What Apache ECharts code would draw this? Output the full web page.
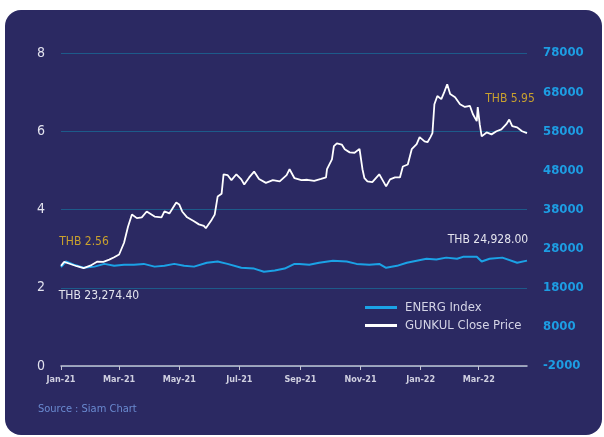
<!DOCTYPE html>
<html>
<head>
<meta charset="utf-8">
<script src="https://cdn.jsdelivr.net/npm/echarts@6/dist/echarts.min.js"></script>
<style>
html, body { margin: 0; padding: 0; background: #ffffff; }
#panel { position: absolute; left: 5px; top: 10px; width: 597px; height: 425px; background: #2b2962; border-radius: 16px; }
#chart { position: absolute; left: 0; top: 0; width: 604px; height: 437px; }
</style>
</head>
<body>
<div id="panel"></div>
<div id="chart"></div>
<script>
// GUNKUL close price (THB), left axis
var gunkulDates = ['2021-01-01','2021-01-04','2021-01-09','2021-01-17','2021-01-24','2021-02-01','2021-02-07','2021-02-13','2021-02-19','2021-02-24',
  '2021-03-01','2021-03-06','2021-03-10','2021-03-14','2021-03-19','2021-03-24','2021-03-29','2021-04-06','2021-04-13','2021-04-16',
  '2021-04-21','2021-04-28','2021-05-01','2021-05-04','2021-05-09','2021-05-16','2021-05-21','2021-05-26','2021-05-28','2021-06-03',
  '2021-06-06','2021-06-09','2021-06-13','2021-06-15','2021-06-19','2021-06-23','2021-06-28','2021-07-03','2021-07-06','2021-07-11',
  '2021-07-16','2021-07-21','2021-07-28','2021-08-04','2021-08-11','2021-08-18','2021-08-21','2021-08-26','2021-09-02','2021-09-08',
  '2021-09-15','2021-09-22','2021-09-27','2021-09-28','2021-10-03','2021-10-05','2021-10-08','2021-10-13','2021-10-16','2021-10-21',
  '2021-10-26','2021-10-31','2021-11-03','2021-11-05','2021-11-08','2021-11-13','2021-11-20','2021-11-23','2021-11-27','2021-12-01',
  '2021-12-06','2021-12-11','2021-12-14','2021-12-19','2021-12-23','2021-12-28','2021-12-31','2022-01-05','2022-01-08','2022-01-11',
  '2022-01-13','2022-01-15','2022-01-18','2022-01-22','2022-01-25','2022-01-28','2022-01-31','2022-02-05','2022-02-10','2022-02-15',
  '2022-02-20','2022-02-23','2022-02-27','2022-02-28','2022-03-02','2022-03-04','2022-03-09','2022-03-14','2022-03-19','2022-03-24',
  '2022-03-29','2022-04-01','2022-04-04','2022-04-09','2022-04-14','2022-04-19'];
var gunkulPrices = [2.56,2.66,2.62,2.55,2.50,2.58,2.67,2.66,2.72,2.78,
  2.85,3.15,3.56,3.87,3.78,3.80,3.95,3.82,3.80,3.95,
  3.90,4.18,4.13,3.95,3.80,3.70,3.62,3.58,3.52,3.74,
  3.87,4.33,4.40,4.90,4.88,4.75,4.90,4.77,4.64,4.82,
  4.97,4.78,4.68,4.75,4.72,4.88,5.03,4.80,4.75,4.76,
  4.73,4.78,4.82,5.03,5.28,5.62,5.69,5.66,5.54,5.46,
  5.45,5.55,5.03,4.80,4.72,4.70,4.90,4.77,4.59,4.77,
  4.82,4.82,5.10,5.15,5.54,5.67,5.85,5.74,5.72,5.85,
  5.95,6.69,6.90,6.82,7.00,7.20,6.95,6.87,6.69,6.62,
  6.65,6.44,6.26,6.62,6.18,5.87,5.97,5.92,6.00,6.05,
  6.18,6.30,6.13,6.10,6.00,5.95];

// ENERG index, right axis
var energDates = ['2021-01-01','2021-01-06','2021-01-14','2021-01-24','2021-02-04','2021-02-14','2021-02-24','2021-03-06','2021-03-16','2021-03-26',
  '2021-04-06','2021-04-16','2021-04-26','2021-05-06','2021-05-16','2021-05-29','2021-06-09','2021-06-19','2021-07-03','2021-07-16',
  '2021-07-26','2021-08-06','2021-08-16','2021-08-26','2021-08-31','2021-09-10','2021-09-20','2021-10-04','2021-10-18','2021-10-28',
  '2021-11-10','2021-11-20','2021-11-27','2021-12-08','2021-12-18','2021-12-28','2022-01-07','2022-01-17','2022-01-27','2022-02-07',
  '2022-02-13','2022-02-27','2022-03-04','2022-03-12','2022-03-25','2022-04-09','2022-04-19'];
var energValues = [23274.40,24700,23900,23100,23400,24100,23600,23900,23900,24100,
  23400,23600,24100,23600,23400,24400,24700,24100,23100,22900,
  22100,22400,22900,24100,24100,23900,24400,24900,24700,24100,
  23900,24100,23100,23600,24400,24900,25400,25200,25700,25400,
  25900,25900,24700,25400,25700,24400,24928.00];

var tickDates = ['2021-01-01','2021-03-01','2021-05-01','2021-07-01','2021-09-01','2021-11-01','2022-01-01','2022-03-01'];
var monthNames = ['Jan','Feb','Mar','Apr','May','Jun','Jul','Aug','Sep','Oct','Nov','Dec'];

var FONT = "'DejaVu Sans Condensed', 'Liberation Sans Narrow', sans-serif";

function ts(d) { return echarts.time.parse(d).getTime(); }
function pairs(dates, vals) {
  return dates.map(function (d, i) { return [ts(d), vals[i]]; });
}

var gunkulData = pairs(gunkulDates, gunkulPrices);
var energData = pairs(energDates, energValues);
var gFirst = gunkulData[0], gLast = gunkulData[gunkulData.length - 1];
var eFirst = energData[0], eLast = energData[energData.length - 1];
var tickValues = tickDates.map(ts);

var option = {
  animation: false,
  title: {
    text: 'Source : Siam Chart',
    left: 33, top: 399,
    textStyle: { color: '#6a8ad0', fontSize: 11, fontWeight: 'normal', fontFamily: FONT }
  },
  legend: {
    orient: 'vertical',
    left: 360, top: 296,
    itemWidth: 32, itemHeight: 3, itemGap: 5,
    icon: 'rect',
    textStyle: { color: '#d4d4e6', fontSize: 13, fontFamily: FONT, padding: [0, 0, 0, 3] },
    data: ['ENERG Index', 'GUNKUL Close Price']
  },
  grid: { left: 61, right: 77, top: 53, bottom: 71 },
  xAxis: {
    type: 'value',
    min: ts('2021-01-01'),
    max: ts('2022-04-19'),
    axisLine: { lineStyle: { color: '#c4c4d4', width: 1.5 } },
    axisTick: { show: true, length: 4, customValues: tickValues, lineStyle: { color: '#c4c4d4' } },
    axisLabel: {
      customValues: tickValues,
      color: '#d0d0e0', fontSize: 9, fontWeight: 'bold', fontFamily: FONT, margin: 9,
      formatter: function (v) {
        var d = new Date(v);
        return monthNames[d.getMonth()] + '-' + String(d.getFullYear()).slice(2);
      }
    },
    splitLine: { show: false }
  },
  yAxis: [{
    type: 'value', min: 0, max: 8, interval: 2,
    axisLine: { show: false }, axisTick: { show: false },
    axisLabel: { color: '#e2e2ee', fontSize: 14, fontFamily: FONT, margin: 16 },
    splitLine: { lineStyle: { color: '#1d5a8a', width: 1 } }
  }, {
    type: 'value', min: -2000, max: 78000, interval: 10000,
    axisLine: { show: false }, axisTick: { show: false },
    axisLabel: {
      color: '#1d9de3', fontSize: 13, fontWeight: 'bold', fontFamily: FONT, margin: 16,
      formatter: function (v) { return String(v); }
    },
    splitLine: { show: false }
  }],
  series: [{
    name: 'ENERG Index',
    type: 'line',
    yAxisIndex: 1,
    data: energData,
    showSymbol: false,
    color: '#1ba2e6',
    lineStyle: { color: '#1ba2e6', width: 2 },
    markPoint: {
      symbolSize: 0,
      label: {
        show: true, position: 'inside', color: '#e4e4ee', fontSize: 12, fontFamily: FONT,
        formatter: function (p) {
          return 'THB ' + p.value.toLocaleString('en-US', { minimumFractionDigits: 2, maximumFractionDigits: 2 });
        }
      },
      data: [
        { coord: eFirst, value: eFirst[1], label: { offset: [38, 29] } },
        { coord: eLast, value: eLast[1], label: { offset: [-39, -21] } }
      ]
    }
  }, {
    name: 'GUNKUL Close Price',
    type: 'line',
    yAxisIndex: 0,
    data: gunkulData,
    showSymbol: false,
    color: '#ffffff',
    lineStyle: { color: '#ffffff', width: 1.8 },
    markPoint: {
      symbolSize: 0,
      label: {
        show: true, position: 'inside', color: '#c9a12e', fontSize: 12, fontFamily: FONT,
        formatter: function (p) { return 'THB ' + p.value.toFixed(2); }
      },
      data: [
        { coord: gFirst, value: gFirst[1], label: { offset: [23, -24] } },
        { coord: gLast, value: gLast[1], label: { offset: [-17, -34] } }
      ]
    }
  }]
};

var myChart = echarts.init(document.getElementById('chart'));
myChart.setOption(option);
</script>
</body>
</html>
